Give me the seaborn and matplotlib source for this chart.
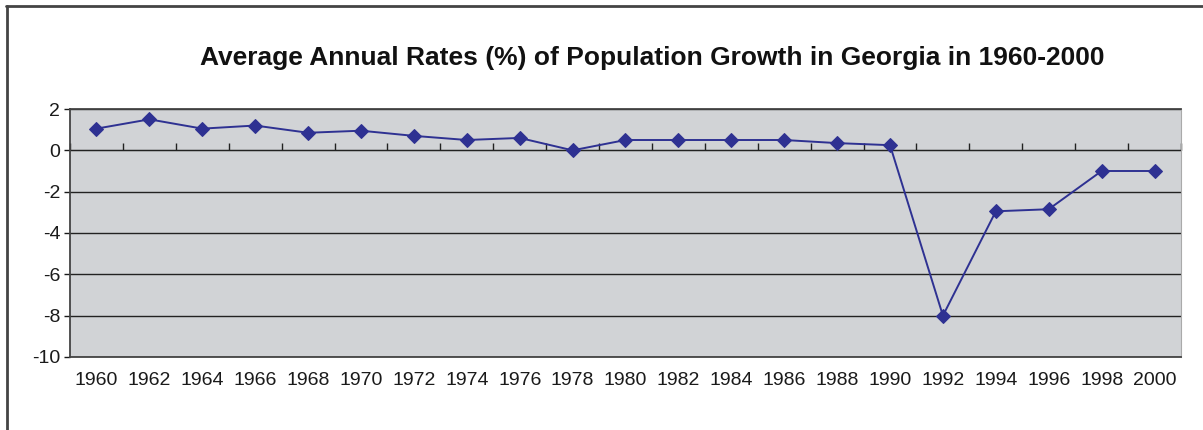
import matplotlib
matplotlib.use("Agg")
import matplotlib.pyplot as plt
from matplotlib.lines import Line2D
import seaborn as sns
import pandas as pd

years = ["1960", "1962", "1964", "1966", "1968", "1970", "1972", "1974", "1976", "1978",
         "1980", "1982", "1984", "1986", "1988", "1990", "1992", "1994", "1996", "1998", "2000"]
growth = [1.05, 1.5, 1.05, 1.2, 0.85, 0.95, 0.7, 0.5, 0.6, 0.0,
          0.5, 0.5, 0.5, 0.5, 0.35, 0.25, -8.0, -2.95, -2.85, -1.0, -1.0]
yticks = [-10, -8, -6, -4, -2, 0, 2]

df = pd.DataFrame({"year": years, "growth": growth})

sns.set_style("white")
plt.rcParams["font.family"] = ["Liberation Sans", "DejaVu Sans"]
plt.rcParams["axes.unicode_minus"] = False

fig = plt.figure(figsize=(12.03, 4.30), dpi=100)
ax = fig.add_axes([0.0582, 0.1698, 0.9235, 0.5767])
ax.set_facecolor("#d1d3d6")

sns.lineplot(data=df, x="year", y="growth", ax=ax, color="#2e3192", linewidth=1.4,
             marker="D", markersize=7.5, markeredgecolor="#2e3192", sort=False, zorder=3)

ax.set_xlim(-0.5, len(years) - 0.5)
ax.set_ylim(-10, 2)
ax.set_yticks(yticks)
ax.set_xticks(range(len(years)))
ax.set_xticklabels(years)
ax.set_xlabel("")
ax.set_ylabel("")
ax.tick_params(axis="x", length=0, pad=11, labelsize=14, colors="#1a1a1a")
ax.tick_params(axis="y", length=4, width=1, pad=3, labelsize=14, colors="#1a1a1a",
               left=True)
ax.yaxis.grid(True, color="#222222", linewidth=1)
ax.set_axisbelow(True)

for side in ["left", "top", "bottom"]:
    ax.spines[side].set_color("#444444")
    ax.spines[side].set_linewidth(1.3)
ax.spines["right"].set_color("#aaaaaa")

# category boundary ticks sitting on the zero line
sec = ax.secondary_xaxis(10 / 12)
sec.set_xticks([i - 0.5 for i in range(len(years) + 1)])
sec.set_xticklabels([])
sec.tick_params(axis="x", direction="out", length=5, width=1, color="#222222")
sec.spines["bottom"].set_visible(False)

fig.text(0.542, 0.865, "Average Annual Rates (%) of Population Growth in Georgia in 1960-2000",
         ha="center", va="center", fontsize=19, fontweight="bold", color="#111111")

# outer chart frame (top and left edges visible)
fig.add_artist(Line2D([0.005, 1.0], [0.986, 0.986], transform=fig.transFigure,
                      color="#444444", linewidth=2))
fig.add_artist(Line2D([0.0055, 0.0055], [0.0, 0.986], transform=fig.transFigure,
                      color="#444444", linewidth=2))

fig.savefig("out.png", dpi=100)
